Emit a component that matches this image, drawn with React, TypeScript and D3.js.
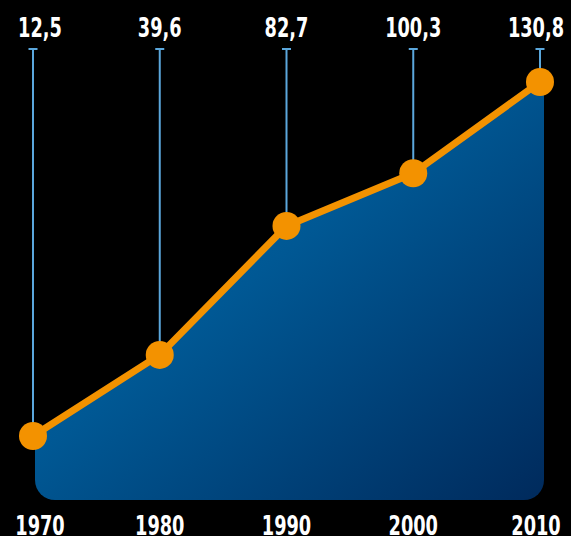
import * as d3 from "d3";
import React, { useEffect, useRef } from "react";

const years = [1970, 1980, 1990, 2000, 2010];
const values = [12.5, 39.6, 82.7, 100.3, 130.8];
const valueLabels = ["12,5", "39,6", "82,7", "100,3", "130,8"];

const W = 571;
const H = 536;

const App: React.FC = () => {
  const ref = useRef<SVGSVGElement>(null);

  useEffect(() => {
    document.body.style.margin = "0";
    document.body.style.background = "#000";
    if (!ref.current) return;

    const svg = d3.select(ref.current);
    svg.selectAll("*").remove();

    const x = d3.scaleLinear().domain([1970, 2010]).range([33, 540]);
    const y = d3.scaleLinear().domain([12.5, 130.8]).range([436, 82]);
    const bottom = 500;
    const font = "'DejaVu Sans Condensed', 'DejaVu Sans', sans-serif";
    const squeeze = 0.76; // condensed look of the original typeface

    const data = years.map((yr, i) => ({ yr, v: values[i], label: valueLabels[i] }));

    svg.append("rect").attr("width", W).attr("height", H).attr("fill", "#000");

    const defs = svg.append("defs");
    const grad = defs
      .append("linearGradient")
      .attr("id", "areaGrad")
      .attr("x1", "0%")
      .attr("y1", "0%")
      .attr("x2", "100%")
      .attr("y2", "100%");
    grad.append("stop").attr("offset", "0%").attr("stop-color", "#0072b0");
    grad.append("stop").attr("offset", "45%").attr("stop-color", "#005894");
    grad.append("stop").attr("offset", "100%").attr("stop-color", "#002a5c");

    const left = x(1970) + 2;
    const right = x(2010) + 4;
    defs
      .append("clipPath")
      .attr("id", "areaClip")
      .append("rect")
      .attr("x", left)
      .attr("y", 0)
      .attr("width", right - left)
      .attr("height", bottom)
      .attr("rx", 20)
      .attr("ry", 20);

    // area, extended a few px past the last point like the reference
    const areaData = [...data, { yr: 2010.4, v: values[values.length - 1], label: "" }];
    const area = d3
      .area<{ yr: number; v: number }>()
      .x((d) => x(d.yr))
      .y0(bottom)
      .y1((d) => y(d.v));
    svg
      .append("path")
      .attr("d", area(areaData) || "")
      .attr("fill", "url(#areaGrad)")
      .attr("clip-path", "url(#areaClip)");

    // drop lines from labels
    const topY = 49;
    const drops = svg.append("g").attr("stroke", "#5ba7dc");
    drops
      .selectAll("line.v")
      .data(data)
      .enter()
      .append("line")
      .attr("class", "v")
      .attr("x1", (d) => x(d.yr))
      .attr("x2", (d) => x(d.yr))
      .attr("y1", topY)
      .attr("y2", (d) => y(d.v))
      .attr("stroke-width", 2);
    drops
      .selectAll("line.t")
      .data(data)
      .enter()
      .append("line")
      .attr("class", "t")
      .attr("x1", (d) => x(d.yr) - 4.5)
      .attr("x2", (d) => x(d.yr) + 4.5)
      .attr("y1", topY)
      .attr("y2", topY)
      .attr("stroke-width", 2);

    // orange line
    const line = d3
      .line<{ yr: number; v: number }>()
      .x((d) => x(d.yr))
      .y((d) => y(d.v));
    svg
      .append("path")
      .attr("d", line(data) || "")
      .attr("fill", "none")
      .attr("stroke", "#f39200")
      .attr("stroke-width", 7)
      .attr("stroke-linejoin", "round");

    svg
      .selectAll("circle")
      .data(data)
      .enter()
      .append("circle")
      .attr("cx", (d) => x(d.yr))
      .attr("cy", (d) => y(d.v))
      .attr("r", 14)
      .attr("fill", "#f39200");

    const clampX = (v: number) => Math.max(40, Math.min(536, v));

    svg
      .selectAll("text.val")
      .data(data)
      .enter()
      .append("text")
      .attr("class", "val")
      .attr("transform", (d) => `translate(${clampX(x(d.yr))},37) scale(${squeeze},1)`)
      .attr("text-anchor", "middle")
      .attr("fill", "#fff")
      .attr("font-family", font)
      .attr("font-weight", "bold")
      .attr("font-size", 26)
      .text((d) => d.label);

    svg
      .selectAll("text.yr")
      .data(data)
      .enter()
      .append("text")
      .attr("class", "yr")
      .attr("transform", (d) => `translate(${clampX(x(d.yr))},535) scale(${squeeze},1)`)
      .attr("text-anchor", "middle")
      .attr("fill", "#fff")
      .attr("font-family", font)
      .attr("font-weight", "bold")
      .attr("font-size", 26)
      .text((d) => String(d.yr));
  }, []);

  return <svg ref={ref} width={W} height={H} style={{ display: "block" }} />;
};

export default App;
